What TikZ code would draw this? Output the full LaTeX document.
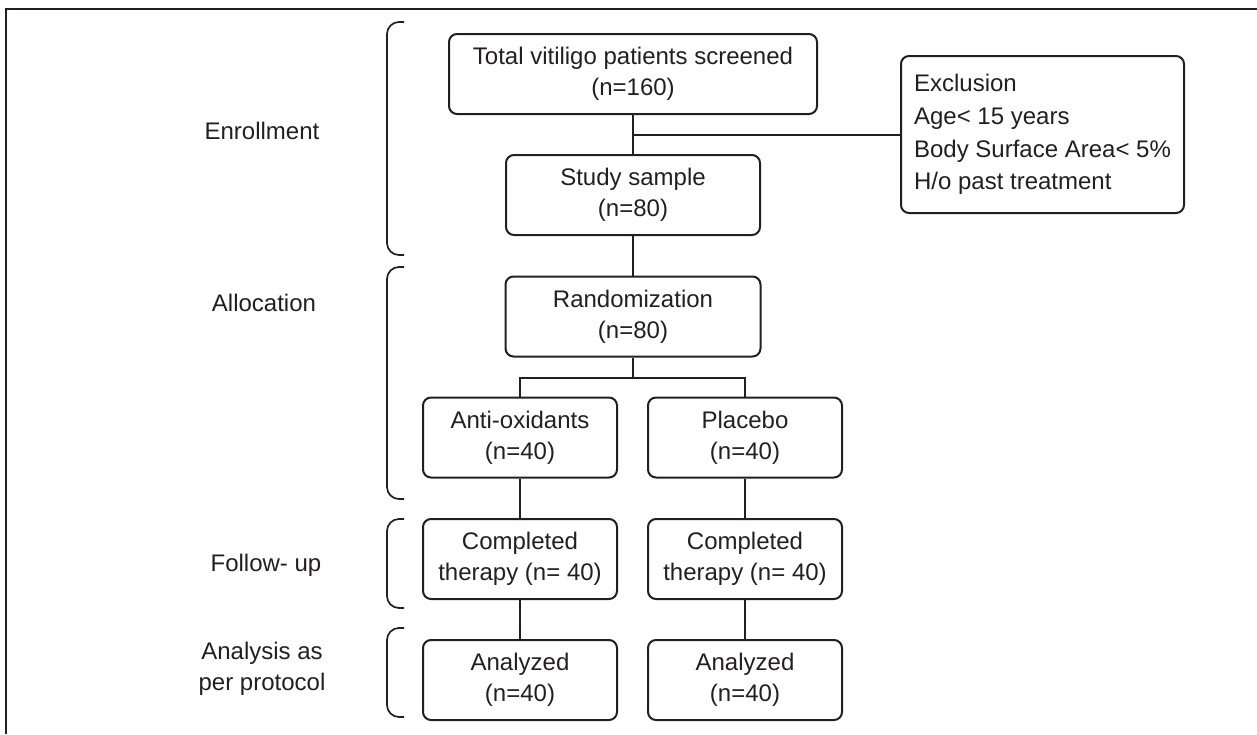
\documentclass[tikz,border=0pt]{standalone}
\usepackage{fontspec}
\setmainfont{Liberation Sans}
\definecolor{ink}{HTML}{231F20}
\begin{document}
\begin{tikzpicture}[x=0.5pt,y=-0.5pt,
  every node/.style={font=\fontsize{12}{15.5}\selectfont, text=ink},
  box/.style={draw=ink, line width=1pt, rounded corners=4pt, align=center, inner sep=0pt, minimum height=40pt},
  line/.style={draw=ink, line width=1pt},
  brk/.style={draw=ink, line width=0.85pt, rounded corners=6pt},
  lab/.style={align=center}]
\useasboundingbox (0,0) rectangle (1257,734);
\draw[draw=ink, line width=1.1pt] (6,734) -- (6,9) -- (1257,9);

\node[box, minimum width=184pt] (total) at (633,74) {Total vitiligo patients screened\\(n=160)};
\node[box, minimum width=127pt] (study) at (633,195) {Study sample\\(n=80)};
\node[box, minimum width=141.5pt, minimum height=78.5pt, align=left, anchor=west, font=\fontsize{12}{16.3}\selectfont] (excl) at (900,134.5) {Exclusion\\Age{<} 15 years\\Body Surface Area{<} 5\%\\H/o past treatment};
\node[box, minimum width=127.5pt] (rand) at (633,316.5) {Randomization\\(n=80)};
\node[box, minimum width=97pt] (anti) at (520,437.5) {Anti-oxidants\\(n=40)};
\node[box, minimum width=97pt] (plac) at (745,437.5) {Placebo\\(n=40)};
\node[box, minimum width=97pt] (comp1) at (520,559) {Completed\\therapy (n= 40)};
\node[box, minimum width=97pt] (comp2) at (745,559) {Completed\\therapy (n= 40)};
\node[box, minimum width=97pt] (anal1) at (520,680) {Analyzed\\(n=40)};
\node[box, minimum width=97pt] (anal2) at (745,680) {Analyzed\\(n=40)};

\coordinate (j1) at (total.south |- excl.west);
\coordinate (j2) at (633,378);
\draw[line] (total.south) -- (study.north);
\draw[line] (j1) -- (excl.west);
\draw[line] (study.south) -- (rand.north);
\draw[line] (rand.south) -- (j2);
\draw[line] (anti.north) |- (j2) -| (plac.north);
\draw[line] (anti.south) -- (comp1.north);
\draw[line] (comp1.south) -- (anal1.north);
\draw[line] (plac.south) -- (comp2.north);
\draw[line] (comp2.south) -- (anal2.north);

\draw[brk] (404,22) -- (387,22) -- (387,255) -- (404,255);
\draw[brk] (404,267) -- (387,267) -- (387,499) -- (404,499);
\draw[brk] (404,519) -- (387,519) -- (387,608) -- (404,608);
\draw[brk] (404,628) -- (387,628) -- (387,717) -- (404,717);

\node[lab] (l1) at (262,131) {Enrollment};
\node[lab] (l2) at (264,303) {Allocation};
\node[lab] (l3) at (266,565) {Follow- up};
\node[lab] (l4) at (262,669) {Analysis as\\per protocol};
\end{tikzpicture}
\end{document}
